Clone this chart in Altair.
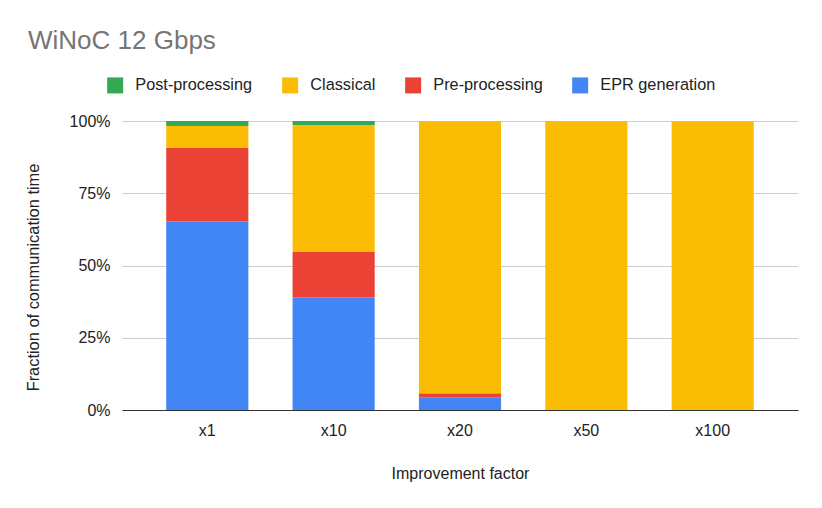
import altair as alt
import pandas as pd

factors = ["x1", "x10", "x20", "x50", "x100"]
series = ["Post-processing", "Classical", "Pre-processing", "EPR generation"]
colors = ["#34a853", "#fbbc04", "#ea4335", "#4285f4"]
stack_rank = [3, 2, 1, 0]  # EPR generation at the bottom

epr = [0.653, 0.390, 0.042, 0.0, 0.0]
pre = [0.254, 0.157, 0.015, 0.0, 0.0]
classical = [0.076, 0.439, 0.943, 1.0, 1.0]
post = [0.017, 0.014, 0.0, 0.0, 0.0]

values = {"Post-processing": post, "Classical": classical,
          "Pre-processing": pre, "EPR generation": epr}

rows = []
for s, r in zip(series, stack_rank):
    for f, v in zip(factors, values[s]):
        rows.append({"factor": f, "series": s, "value": v, "rank": r})
df = pd.DataFrame(rows)

FONT = "Liberation Sans"

chart = alt.Chart(df).mark_bar().encode(
    x=alt.X("factor:N", sort=factors,
            scale=alt.Scale(paddingInner=0.35, paddingOuter=0.35),
            axis=alt.Axis(title="Improvement factor", labelAngle=0, ticks=False,
                          labelPadding=12, titlePadding=27, domainColor="#333333",
                          labelFontSize=16, titleFontSize=16, labelColor="#222222",
                          titleColor="#222222", titleFontWeight="normal",
                          labelFont=FONT, titleFont=FONT)),
    y=alt.Y("value:Q", stack="zero",
            scale=alt.Scale(domain=[0, 1]),
            axis=alt.Axis(title="Fraction of communication time", format=".0%",
                          values=[0, 0.25, 0.5, 0.75, 1], ticks=False, domain=False,
                          labelPadding=12, titlePadding=28, titleY=156,
                          gridColor="#cccccc",
                          labelFontSize=16, titleFontSize=16.4, labelColor="#222222",
                          titleColor="#222222", titleFontWeight="normal",
                          labelFont=FONT, titleFont=FONT)),
    color=alt.Color("series:N",
                    scale=alt.Scale(domain=series, range=colors),
                    legend=alt.Legend(title=None, orient="none", direction="horizontal",
                                      legendX=-15, legendY=-44, symbolType="square",
                                      symbolSize=256, symbolStrokeWidth=0,
                                      labelFontSize=16.3, labelColor="#222222",
                                      labelFont=FONT, labelOffset=12,
                                      columnPadding=29)),
    order=alt.Order("rank:Q", sort="ascending"),
).properties(
    width=676,
    height=289,
    title=alt.TitleParams("WiNoC 12 Gbps", anchor="start", frame="group",
                          fontSize=26, fontWeight="normal", color="#757575",
                          font=FONT, dx=-94, offset=23),
    autosize=alt.AutoSizeParams(type="none"),
    padding={"left": 114, "top": 113, "right": 16, "bottom": 90},
).configure_view(stroke=None)

chart.save("out.html", embed_options={"renderer": "svg", "actions": False})
